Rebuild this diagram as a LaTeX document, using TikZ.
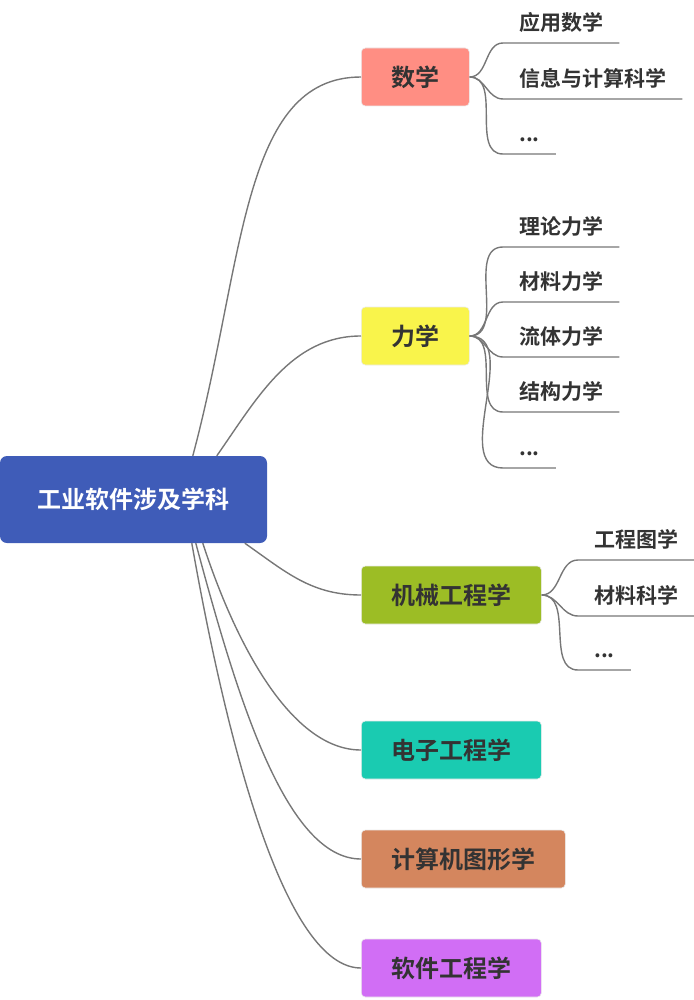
\documentclass[tikz,border=0pt]{standalone}
\usepackage{fontspec}
\setmainfont{Noto Sans CJK SC}[BoldFont={Noto Sans CJK SC Bold}]
\definecolor{rootblue}{HTML}{3F5CB8}
\definecolor{mathred}{HTML}{FF8E83}
\definecolor{mechyellow}{HTML}{F9F44B}
\definecolor{mecheng}{HTML}{9CBD25}
\definecolor{eleceng}{HTML}{1ACBB1}
\definecolor{graphics}{HTML}{D4865E}
\definecolor{softeng}{HTML}{D16EF5}
\definecolor{textgray}{HTML}{333333}
\definecolor{linegray}{HTML}{777777}

\begin{document}
\begin{tikzpicture}[x=1pt,y=1pt,
  every node/.style={font=\bfseries},
  topic/.style={rounded corners=4pt, inner xsep=30pt, minimum height=58pt, anchor=west,
    text=textgray, draw=black!8, line width=0.6pt, font=\fontsize{24}{24}\selectfont\bfseries},
  leaf/.style={anchor=south west, inner xsep=16pt, inner ysep=0pt, text depth=12pt,
    text=textgray, font=\fontsize{21}{21}\selectfont\bfseries},
  link/.style={draw=linegray, line width=1.4pt}]
\useasboundingbox (0,0) rectangle (693,-1000);

% central topic
\node[fill=rootblue, text=white, rounded corners=7pt, minimum width=267pt, minimum height=87pt,
  font=\fontsize{24}{24}\selectfont\bfseries] (root) at (133.5,-499.5) {工业软件涉及学科};

% main branches
\node[topic, fill=mathred] (shuxue) at (361,-77) {数学};
\node[topic, fill=mechyellow] (lixue) at (361,-336) {力学};
\node[topic, fill=mecheng] (jixie) at (361,-595) {机械工程学};
\node[topic, fill=eleceng] (dianzi) at (361,-750) {电子工程学};
\node[topic, fill=graphics] (tuxing) at (361,-859) {计算机图形学};
\node[topic, fill=softeng] (ruanjian) at (361,-968) {软件工程学};

\coordinate (r1) at ([xshift=193pt]root.north west);
\coordinate (r2) at ([xshift=217pt]root.north west);
\coordinate (r3) at ([xshift=245pt]root.south west);
\coordinate (r4) at ([xshift=203pt]root.south west);
\coordinate (r5) at ([xshift=196pt]root.south west);
\coordinate (r6) at ([xshift=192pt]root.south west);

\draw[link] (r1) to[out=75, in=180, out distance=200pt, in distance=120pt] (shuxue.west);
\draw[link] (r2) to[out=55, in=180, out distance=70pt, in distance=70pt] (lixue.west);
\draw[link] (r3) to[out=-35, in=180, out distance=50pt, in distance=50pt] (jixie.west);
\draw[link] (r4) to[out=-72, in=180, out distance=105pt, in distance=70pt] (dianzi.west);
\draw[link] (r5) to[out=-75, in=180, out distance=160pt, in distance=75pt] (tuxing.west);
\draw[link] (r6) to[out=-80, in=180, out distance=210pt, in distance=75pt] (ruanjian.west);

% 数学
\node[leaf] (sx1) at (503,-43) {应用数学};
\node[leaf] (sx2) at (503,-99) {信息与计算科学};
\node[leaf] (sx3) at (503,-154) {...};
\draw[link] (shuxue.east) to[out=0, in=180] (sx1.south west) -- (sx1.south east);
\draw[link] (shuxue.east) to[out=0, in=180] (sx2.south west) -- (sx2.south east);
\draw[link] (shuxue.east) to[out=0, in=180] (sx3.south west) -- (sx3.south east);

% 力学
\node[leaf] (lx1) at (503,-247) {理论力学};
\node[leaf] (lx2) at (503,-302) {材料力学};
\node[leaf] (lx3) at (503,-357) {流体力学};
\node[leaf] (lx4) at (503,-412) {结构力学};
\node[leaf] (lx5) at (503,-468) {...};
\draw[link] (lixue.east) to[out=0, in=180] (lx1.south west) -- (lx1.south east);
\draw[link] (lixue.east) to[out=0, in=180] (lx2.south west) -- (lx2.south east);
\draw[link] (lixue.east) to[out=0, in=180] (lx3.south west) -- (lx3.south east);
\draw[link] (lixue.east) to[out=0, in=180] (lx4.south west) -- (lx4.south east);
\draw[link] (lixue.east) to[out=0, in=180] (lx5.south west) -- (lx5.south east);

% 机械工程学
\node[leaf] (jx1) at (578,-560) {工程图学};
\node[leaf] (jx2) at (578,-616) {材料科学};
\node[leaf] (jx3) at (578,-670) {...};
\draw[link] (jixie.east) to[out=0, in=180] (jx1.south west) -- (jx1.south east);
\draw[link] (jixie.east) to[out=0, in=180] (jx2.south west) -- (jx2.south east);
\draw[link] (jixie.east) to[out=0, in=180] (jx3.south west) -- (jx3.south east);
\end{tikzpicture}
\end{document}
